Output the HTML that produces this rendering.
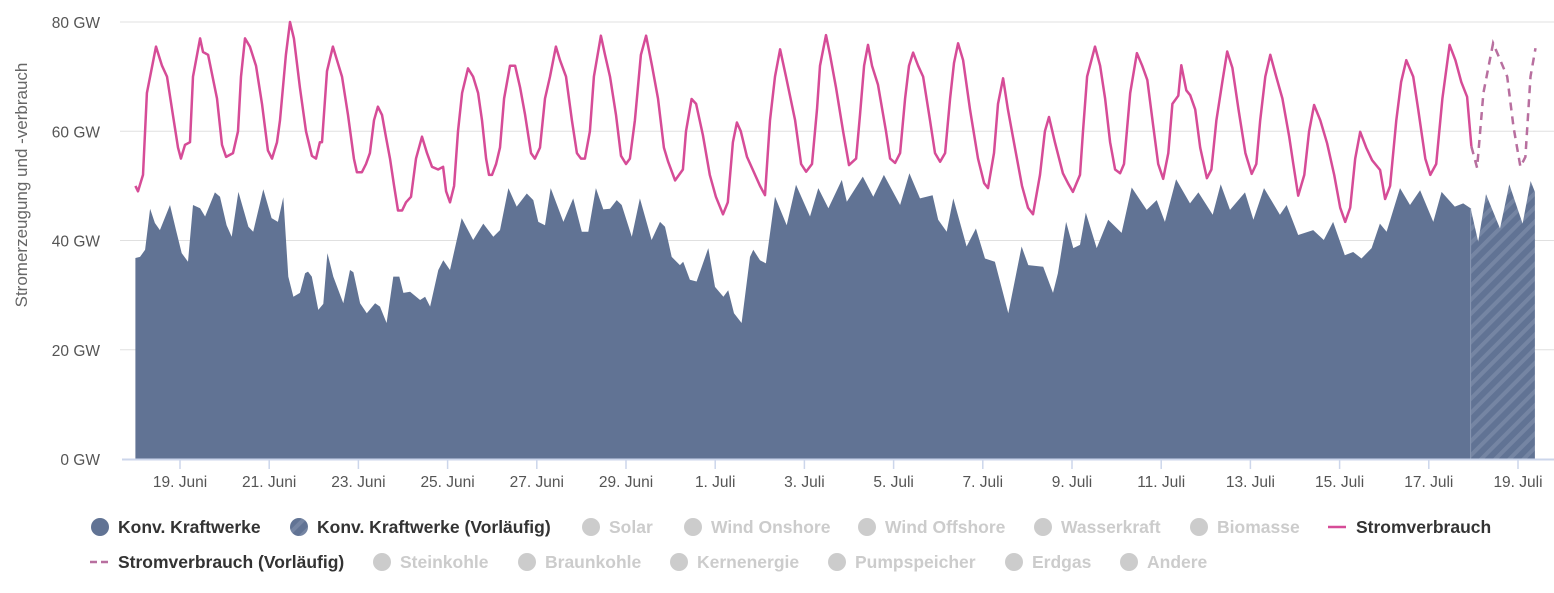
<!DOCTYPE html>
<html><head><meta charset="utf-8"><style>
body{margin:0;background:#fff;width:1554px;height:593px;overflow:hidden;font-family:"Liberation Sans",sans-serif}
svg{display:block}
</style></head><body>
<svg id="chart" width="1554" height="593" xmlns="http://www.w3.org/2000/svg">
<defs>
<pattern id="hatch" patternUnits="userSpaceOnUse" width="10" height="10" patternTransform="rotate(45)">
<rect width="10" height="10" fill="#617394"/><rect width="4" height="10" fill="#7585a3"/>
</pattern>
</defs>
<g id="grid"></g>
<g id="yaxis"></g>
<text transform="translate(27,185) rotate(-90)" text-anchor="middle" font-size="17" fill="#666">Stromerzeugung und -verbrauch</text>
<g id="series"></g>
<g id="xaxis"></g>
<g id="legend"></g>
</svg>
<script>
const yTicks=[0,20,40,60,80];
const xTickLabels=["19. Juni","21. Juni","23. Juni","25. Juni","27. Juni","29. Juni","1. Juli","3. Juli","5. Juli","7. Juli","9. Juli","11. Juli","13. Juli","15. Juli","17. Juli","19. Juli"];
const xTickHours=[24,72,120,168,216,264,312,360,408,456,504,552,600,648,696,744];
const genHours=[0,2.5,5.2,7.9,10.5,13.2,18.6,21.8,24.9,28.3,31,34.8,37.5,42.8,45.5,49.1,51.8,55.4,60.8,63.4,68.8,73.3,76.7,79.6,82.3,85,88.5,91.3,92.9,94.9,98.4,101.1,103.3,106.5,111.9,115.5,117.3,120.9,124.5,129,131.6,135.2,138.8,142,144.2,147.8,153.2,155.9,158.6,163,165.7,169.3,175.6,181.8,187.2,192.6,196.2,200.7,205.2,210.6,214.1,216.8,220.4,223.5,230.3,235.6,240.2,243.7,247.8,251.8,255.4,259,261.7,267.1,271.5,277.8,282.3,285,288.6,293,294.8,298.4,302,308.3,311.9,316.4,319,322.1,326.2,330.7,332.5,336.1,339.3,344.2,350.5,355.5,363,367.5,372.9,380.1,382.8,391.4,397.1,402.8,411.5,416.5,422.2,429,432,436.6,440.1,447.3,452.3,457.2,462.5,469.7,476.9,480.5,488.5,493.8,496.4,500.8,504.7,508.3,511.4,517.3,523.5,530.7,536.1,544.2,549.6,554,560,567.5,572,579.7,584,589,597.1,601.6,607.3,615.9,619.5,625.7,633.8,639.5,644.5,650.8,655.3,659.8,665.2,669.7,673.3,680.5,685.9,691.3,698.4,702.9,710,714.5,718.5];
const genGW=[36.8,37,38.3,45.8,43.2,41.9,46.5,42,37.7,36.1,46.5,45.9,44.4,48.8,48,42.8,40.7,48.9,42.5,41.6,49.4,44.1,43.4,47.9,33.4,29.7,30.4,34,34.3,33.4,27.3,28.4,37.7,33.4,28.5,34.6,34.2,28.5,26.7,28.5,27.9,24.9,33.4,33.4,30.4,30.6,29.1,29.7,27.9,34.6,36.4,34.6,44.1,40.1,43.1,40.7,41.9,49.6,46.2,48.6,47.4,43.4,42.8,49.6,43.4,47.7,41.6,41.6,49.6,45.7,45.8,47.4,46.5,40.7,47.7,40.1,43.4,42.5,37,35.5,36.1,32.8,32.5,38.6,31.5,29.7,30.9,26.7,24.9,37,38.3,36.4,35.8,48,42.8,50.2,44.4,49.6,45.9,51.1,47.1,51.7,48,52,46.5,52.3,47.7,48.3,43.8,41.6,47.7,38.9,42.2,36.7,36.1,26.7,38.9,35.5,35.2,30.4,34,43.4,38.6,39.2,45.1,38.6,43.8,41.4,49.7,45.6,47.4,43.4,51.2,46.8,48.8,44.7,50.3,45.6,48.8,43.8,49.6,44.7,46.5,41,41.9,40.1,43.4,37.3,37.9,36.7,38.6,43.1,41.6,49.6,46.5,49.2,43.4,48.9,46.2,46.8,45.9];
const genPrelimHours=[718.5,722.6,726.8,734.3,739.3,746.5,750.8,753.1];
const genPrelimGW=[45.9,39.8,48.5,42.2,50.3,43.1,50.9,48.9];
const useHours=[0,1.4,4.1,6.2,11.1,14.3,17,20.2,22.9,24.5,26.7,29.4,31,34.8,36.4,39.1,43.9,46.6,48.8,52.5,55.2,56.8,59,61.6,64.9,68.1,71.3,73.5,76.2,77.8,81,83.2,85.3,88.5,91.8,95,97.2,99.3,100.4,103.1,106.3,108.5,111.2,114.4,117.6,119.2,121.9,124.1,126.2,128.4,130.5,132.7,134.8,137,139.2,141.3,143.5,145.6,148.3,151,154.2,156.9,159.6,162.9,165.6,167.2,169.3,171.5,173.6,175.8,179,181.7,184.4,186.5,188.7,190.3,191.9,194.1,196.2,198.4,201.6,204.3,207,209.7,212.9,215,217.7,220.4,223.1,226.3,228.5,231.7,234.9,237.6,239.8,241.9,244.6,246.7,250.5,252.7,255.4,258.6,261.3,264,266.1,268.8,272,274.8,278,281.2,284.4,286.6,290.4,294.6,296.3,299.3,301.7,305.4,309.1,312.4,316.2,318.8,321.5,323.7,325.8,329.1,332.3,336.1,338.8,341.5,344.2,346.9,350.1,355,358.2,360.9,364.1,366.8,368.4,371.6,373.8,377,380.8,384,387.8,389.9,392.1,394.2,396.4,399.6,403.9,406.1,408.8,411.5,414.2,416.3,418.5,421.2,423.9,427.6,430.3,433,435.7,438.4,440.5,442.7,445.4,449.1,453.4,456.7,458.8,462,464.2,466.9,469.5,473.3,477.1,480.3,483,486.8,489.4,491.6,494.8,499.1,501.8,504.5,508.3,509.9,512.1,516.4,519.1,521.8,524.5,527.2,529.9,532,535.3,538.9,541.8,544.5,547.7,550.4,553.1,555.8,558,561.2,562.8,565.5,567.6,570.3,573,576.6,579,581.7,584.9,587.5,590.3,593.6,597.3,600.7,603.2,605.3,608,610.7,613.9,617.2,620.9,623.1,625.7,629,631.6,634.3,637.6,641.3,645.1,648.3,651,653.7,656.4,659.1,662.3,665.5,669.8,672.5,675.2,678.5,681.1,683.9,687.6,690.3,694.1,696.8,700,703.3,707.2,710.3,713.5,716.6,718.9];
const useGW=[50,49,52,67,75.5,72,70,63,57,55,57.5,58,70,77,74.5,74,66,57.5,55.3,56,60,70,77,75.5,72,65,56.5,55,58,62,74,80,77,68,60,55.5,55,58,58,71,75.5,73,70,63,55,52.5,52.5,54,56,62,64.5,63,59,55,50,45.5,45.5,47,48,55,59,56,53.5,53,53.5,49,47,50,60,67,71.5,70,67,62,55,52,52,54,57,66,72,72,68,63,56,55,57,66,70,75.5,73,70,62,56,55,55,60,70,77.5,74,70,63,55.5,54,55,62,74,77.5,72,66,57,54.5,51,53,60,65.9,65,59.3,52,48,44.8,47,58,61.6,60,55.3,52.9,50,48.3,62,70,75,70,62,54,52.6,54,64,72,77.6,74,68,60,53.8,55,63,72,75.8,72,68.5,60,55,54.2,56,66,72,74.4,72,70,62,56,54.4,56,66,72.5,76.1,73,64,55,50.5,49.6,56,65,69.7,64,57,50,46,44.8,52,60,62.6,58,52.3,50.5,48.9,52,60,70,75.5,72,66,58,53,52.3,54,67,74.3,72,69.4,61,54,51.3,56,65,66.5,72.1,67.5,66.6,64,57,51.4,53,62,69,74.6,71.6,64,56,52.2,54,62,70,74,70,66,59,54,48.2,52,60,64.8,62,57.8,52,46,43.4,46,55,59.9,57,54.7,52.9,47.6,50,62,69,73,70,64,55,52,54,66,75.8,73,69,66.3,57.2];
const usePrelimHours=[718.9,722,725.4,730.6,734.5,738.2,741.6,745.3,748,750.7,753.4];
const usePrelimGW=[57.2,53.3,67,76.1,73,70,60.8,53.5,55.3,70,75.2];

const NS="http://www.w3.org/2000/svg";
const X0=135.4, PXH=44.6/24, Y0=459, PXG=(459-22)/80;
function xs(h){return X0+h*PXH;}
function ys(v){return Y0-v*PXG;}
function mk(tag,attrs,parent){const e=document.createElementNS(NS,tag);for(const k in attrs)e.setAttribute(k,attrs[k]);parent.appendChild(e);return e;}
const grid=document.getElementById('grid'),yaxis=document.getElementById('yaxis'),series=document.getElementById('series'),xaxis=document.getElementById('xaxis'),legend=document.getElementById('legend');

yTicks.forEach(v=>{
  if(v>0){const l=mk('line',{x1:120,x2:1554,y1:ys(v),y2:ys(v),stroke:'#e0e0e0','stroke-width':1},grid);
  
  }
  const t=mk('text',{x:100,y:ys(v)+6,'text-anchor':'end','font-size':15.5,fill:'#555'},yaxis);
  t.textContent=v+' GW';
  
  
});

function areaPath(H,V){let d='M'+xs(H[0])+','+Y0;for(let i=0;i<H.length;i++)d+=' L'+xs(H[i]).toFixed(1)+','+ys(V[i]).toFixed(1);d+=' L'+xs(H[H.length-1])+','+Y0+' Z';return d;}
function linePath(H,V){let d='';for(let i=0;i<H.length;i++)d+=(i?' L':'M')+xs(H[i]).toFixed(1)+','+ys(V[i]).toFixed(1);return d;}

const a1=mk('path',{d:areaPath(genHours,genGW),fill:'#617394'},series);


const a2=mk('path',{d:areaPath(genPrelimHours,genPrelimGW),fill:'url(#hatch)'},series);


const sep=mk('line',{x1:xs(genPrelimHours[0]),x2:xs(genPrelimHours[0]),y1:ys(genPrelimGW[0]),y2:Y0,stroke:'#8a98b3','stroke-width':1},series);


const l1=mk('path',{d:linePath(useHours,useGW),fill:'none',stroke:'#d64c97','stroke-width':2.5,'stroke-linejoin':'round'},series);


const l2=mk('path',{d:linePath(usePrelimHours,usePrelimGW),fill:'none',stroke:'#b86f9f','stroke-width':2.5,'stroke-dasharray':'8,6'},series);



const ax=mk('line',{x1:122,x2:1554,y1:Y0+0.5,y2:Y0+0.5,stroke:'#ccd6eb','stroke-width':2},xaxis);


xTickHours.forEach((h,i)=>{
  const tk=mk('line',{x1:xs(h),x2:xs(h),y1:Y0,y2:Y0+10,stroke:'#ccd6eb','stroke-width':1.5},xaxis);
  
  
  const t=mk('text',{x:xs(h),y:487,'text-anchor':'middle','font-size':15.5,fill:'#555'},xaxis);
  t.textContent=xTickLabels[i];
  
  
});

const legendItems=[
 ["Konv. Kraftwerke",100,533,"circle","#617394",true],
 ["Konv. Kraftwerke (Vorläufig)",299,533,"hatch","#617394",true],
 ["Solar",591,533,"circle","#ccc",false],
 ["Wind Onshore",693,533,"circle","#ccc",false],
 ["Wind Offshore",867,533,"circle","#ccc",false],
 ["Wasserkraft",1043,533,"circle","#ccc",false],
 ["Biomasse",1199,533,"circle","#ccc",false],
 ["Stromverbrauch",1338,533,"line","#d64c97",true],
 ["Stromverbrauch (Vorläufig)",100,568,"dash","#b86f9f",true],
 ["Steinkohle",382,568,"circle","#ccc",false],
 ["Braunkohle",527,568,"circle","#ccc",false],
 ["Kernenergie",679,568,"circle","#ccc",false],
 ["Pumpspeicher",837,568,"circle","#ccc",false],
 ["Erdgas",1014,568,"circle","#ccc",false],
 ["Andere",1129,568,"circle","#ccc",false]
];
legendItems.forEach(it=>{
  const g=mk('g',{style:'cursor:pointer'},legend);
  
  
  const cx=it[1],cy=it[2]-6;
  if(it[3]==='circle')mk('circle',{cx:cx,cy:cy,r:9,fill:it[4]},g);
  else if(it[3]==='hatch')mk('circle',{cx:cx,cy:cy,r:9,fill:'url(#hatch)'},g);
  else if(it[3]==='line')mk('line',{x1:cx-10,x2:cx+8,y1:cy,y2:cy,stroke:it[4],'stroke-width':2.5},g);
  else mk('line',{x1:cx-10,x2:cx+8,y1:cy,y2:cy,stroke:it[4],'stroke-width':2.5,'stroke-dasharray':'7,4'},g);
  const t=mk('text',{x:cx+18,y:it[2],'font-size':17.5,'font-weight':'bold',fill:it[5]?'#333':'#ccc'},g);
  t.textContent=it[0];
});
</script>
</body></html>
